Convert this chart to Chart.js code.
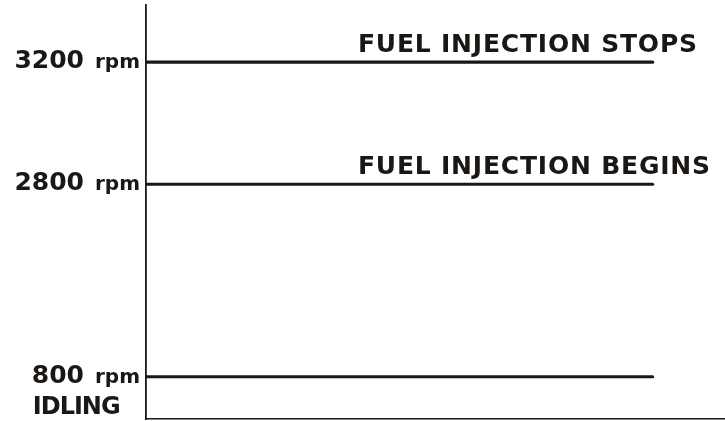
<!DOCTYPE html>
<html>
<head>
<meta charset="utf-8">
<script src="https://cdn.jsdelivr.net/npm/chart.js@4"></script>
<style>
  html, body { margin: 0; padding: 0; background: #fff; }
  #wrap { width: 725px; height: 421px; }
</style>
</head>
<body>
<div id="wrap"><canvas id="c" width="725" height="421"></canvas></div>
<script>
// ---- data ----
const levels = [3200, 2800, 800];                 // engine speed levels (rpm)
const levelUnit = 'rpm';
const levelNotes = ['FUEL INJECTION STOPS', 'FUEL INJECTION BEGINS', ''];
const levelSubLabels = ['', '', 'IDLING'];
const lineSpan = [0, 87.5];                        // horizontal extent of each level line

// ---- custom schematic (piecewise) scale ----
class BrokenScale extends Chart.LinearScale {
  _frac(v) {
    const s = this.options.stops;
    if (v <= s[0][0]) return s[0][1];
    for (let i = 1; i < s.length; i++) {
      if (v <= s[i][0]) {
        const [v0, f0] = s[i - 1], [v1, f1] = s[i];
        return f0 + (v - v0) / (v1 - v0) * (f1 - f0);
      }
    }
    return s[s.length - 1][1];
  }
  getPixelForValue(v) {
    return this.bottom - this._frac(v) * (this.bottom - this.top);
  }
  getValueForPixel(p) {
    const f = (this.bottom - p) / (this.bottom - this.top);
    const s = this.options.stops;
    for (let i = 1; i < s.length; i++) {
      if (f <= s[i][1]) {
        const [v0, f0] = s[i - 1], [v1, f1] = s[i];
        return v0 + (f - f0) / (f1 - f0) * (v1 - v0);
      }
    }
    return s[s.length - 1][0];
  }
}
BrokenScale.id = 'broken';
BrokenScale.defaults = Chart.LinearScale.defaults;
Chart.register(BrokenScale);

const INK = '#1b1714';
const FONT = '"DejaVu Sans", sans-serif';

const labelsPlugin = {
  id: 'labels',
  afterDraw(chart) {
    const ctx = chart.ctx;
    const y = chart.scales.y, x = chart.scales.x;
    const ca = chart.chartArea;
    ctx.save();
    ctx.fillStyle = INK;
    ctx.textBaseline = 'alphabetic';
    levels.forEach((lv, i) => {
      const py = y.getPixelForValue(lv);
      // rpm label
      ctx.font = 'bold 20px ' + FONT;
      ctx.textAlign = 'right';
      const rx = ca.left - 6;
      ctx.fillText(levelUnit, rx, py + 6);
      const rw = ctx.measureText(levelUnit).width;
      ctx.font = 'bold 25px ' + FONT;
      const numX = rx - rw - 11;
      ctx.fillText(String(lv), numX, py + 6);
      const nw = ctx.measureText(String(lv)).width;
      if (levelSubLabels[i]) {
        ctx.textAlign = 'left';
        ctx.font = 'bold 24px ' + FONT;
        ctx.letterSpacing = '-1px';
        ctx.fillText(levelSubLabels[i], numX - nw + 1, py + 37);
        ctx.letterSpacing = '0px';
      }
      if (levelNotes[i]) {
        ctx.textAlign = 'left';
        ctx.font = 'bold 25px ' + FONT;
        ctx.letterSpacing = '0.8px';
        ctx.fillText(levelNotes[i], x.getPixelForValue(36.6), py - 10);
        ctx.letterSpacing = '0px';
      }
    });
    ctx.restore();
  }
};

new Chart(document.getElementById('c'), {
  type: 'line',
  data: {
    datasets: levels.map(lv => ({
      data: lineSpan.map(xv => ({ x: xv, y: lv })),
      borderColor: INK,
      borderWidth: 3.2,
      borderCapStyle: 'round',
      pointRadius: 0,
      fill: false
    }))
  },
  options: {
    responsive: false,
    animation: false,
    events: [],
    layout: { padding: { left: 146, top: 5, right: 0, bottom: 2 } },
    plugins: { legend: { display: false }, tooltip: { enabled: false } },
    scales: {
      x: {
        type: 'linear', min: 0, max: 100,
        grid: { display: false, drawTicks: false },
        ticks: { display: false },
        border: { display: true, color: INK, width: 1.6 }
      },
      y: {
        type: 'broken', min: 0, max: 3600,
        stops: [[0, 0], [800, 0.102], [2800, 0.567], [3200, 0.862], [3600, 1]],
        grid: { display: false, drawTicks: false },
        ticks: { display: false },
        border: { display: true, color: INK, width: 1.8 }
      }
    }
  },
  plugins: [labelsPlugin]
});
</script>
</body>
</html>
